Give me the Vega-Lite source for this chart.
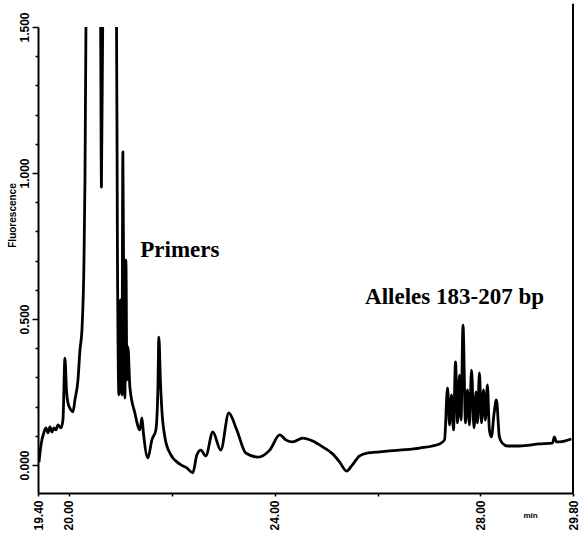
{
  "$schema": "https://vega.github.io/schema/vega-lite/v6.json",
  "width": 535,
  "height": 466,
  "autosize": "none",
  "padding": {"left": 38, "top": 27, "right": 9, "bottom": 46},
  "background": "white",
  "config": {
    "view": {"stroke": null},
    "axis": {
      "grid": false,
      "domainColor": "black",
      "domainWidth": 2,
      "tickColor": "black",
      "tickWidth": 1.5,
      "labelColor": "black",
      "titleColor": "black",
      "labelFont": "Liberation Sans",
      "labelFontWeight": "bold",
      "titleFont": "Liberation Sans",
      "titleFontWeight": "bold"
    }
  },
  "resolve": {"axis": {"y": "independent"}},
  "datasets": {
    "trace": [
      {"t": 19.419, "v": 0.010}, {"t": 19.458, "v": 0.068}, {"t": 19.517, "v": 0.113},
      {"t": 19.555, "v": 0.127}, {"t": 19.594, "v": 0.110}, {"t": 19.633, "v": 0.130},
      {"t": 19.672, "v": 0.113}, {"t": 19.711, "v": 0.127}, {"t": 19.750, "v": 0.120},
      {"t": 19.788, "v": 0.137}, {"t": 19.847, "v": 0.127}, {"t": 19.885, "v": 0.154},
      {"t": 19.924, "v": 0.366}, {"t": 19.953, "v": 0.257}, {"t": 19.983, "v": 0.212},
      {"t": 20.041, "v": 0.188}, {"t": 20.080, "v": 0.182}, {"t": 20.118, "v": 0.223},
      {"t": 20.177, "v": 0.291}, {"t": 20.216, "v": 0.394}, {"t": 20.254, "v": 0.462},
      {"t": 20.293, "v": 0.692}, {"t": 20.313, "v": 0.976}, {"t": 20.332, "v": 1.5},
      {"t": 20.351, "v": 1.75}, {"t": 20.507, "v": 1.9}, {"t": 20.614, "v": 1.6},
      {"t": 20.633, "v": 0.952}, {"t": 20.662, "v": 1.6}, {"t": 20.798, "v": 1.9},
      {"t": 20.924, "v": 1.6}, {"t": 20.944, "v": 0.736}, {"t": 20.973, "v": 0.240},
      {"t": 21.002, "v": 0.565}, {"t": 21.031, "v": 0.240}, {"t": 21.050, "v": 1.072},
      {"t": 21.070, "v": 0.462}, {"t": 21.089, "v": 0.229}, {"t": 21.109, "v": 0.702},
      {"t": 21.128, "v": 0.291}, {"t": 21.148, "v": 0.404}, {"t": 21.186, "v": 0.267},
      {"t": 21.283, "v": 0.178}, {"t": 21.381, "v": 0.120}, {"t": 21.420, "v": 0.161},
      {"t": 21.449, "v": 0.110}, {"t": 21.536, "v": 0.024}, {"t": 21.614, "v": 0.086},
      {"t": 21.691, "v": 0.120}, {"t": 21.730, "v": 0.257}, {"t": 21.750, "v": 0.438},
      {"t": 21.779, "v": 0.291}, {"t": 21.808, "v": 0.188}, {"t": 21.866, "v": 0.096},
      {"t": 21.963, "v": 0.041}, {"t": 22.157, "v": 0.003}, {"t": 22.293, "v": -0.010},
      {"t": 22.410, "v": -0.027}, {"t": 22.487, "v": 0.034}, {"t": 22.565, "v": 0.051},
      {"t": 22.662, "v": 0.031}, {"t": 22.798, "v": 0.113}, {"t": 22.953, "v": 0.051},
      {"t": 23.109, "v": 0.178}, {"t": 23.264, "v": 0.120}, {"t": 23.439, "v": 0.041},
      {"t": 23.672, "v": 0.027}, {"t": 23.905, "v": 0.051}, {"t": 24.099, "v": 0.103},
      {"t": 24.216, "v": 0.086}, {"t": 24.351, "v": 0.079}, {"t": 24.546, "v": 0.092},
      {"t": 24.740, "v": 0.082}, {"t": 24.934, "v": 0.062}, {"t": 25.128, "v": 0.038},
      {"t": 25.264, "v": 0.010}, {"t": 25.400, "v": -0.021}, {"t": 25.497, "v": -0.003},
      {"t": 25.652, "v": 0.031}, {"t": 25.808, "v": 0.041}, {"t": 26.041, "v": 0.045},
      {"t": 26.429, "v": 0.051}, {"t": 26.817, "v": 0.058}, {"t": 27.206, "v": 0.072},
      {"t": 27.303, "v": 0.086}, {"t": 27.361, "v": 0.264}, {"t": 27.400, "v": 0.137},
      {"t": 27.438, "v": 0.240}, {"t": 27.477, "v": 0.120}, {"t": 27.516, "v": 0.353},
      {"t": 27.555, "v": 0.144}, {"t": 27.594, "v": 0.308}, {"t": 27.623, "v": 0.154},
      {"t": 27.662, "v": 0.479}, {"t": 27.710, "v": 0.144}, {"t": 27.749, "v": 0.257},
      {"t": 27.788, "v": 0.137}, {"t": 27.827, "v": 0.325}, {"t": 27.876, "v": 0.127},
      {"t": 27.915, "v": 0.250}, {"t": 27.943, "v": 0.144}, {"t": 27.981, "v": 0.315},
      {"t": 28.021, "v": 0.144}, {"t": 28.060, "v": 0.257}, {"t": 28.097, "v": 0.154},
      {"t": 28.136, "v": 0.274}, {"t": 28.175, "v": 0.120}, {"t": 28.214, "v": 0.096},
      {"t": 28.262, "v": 0.171}, {"t": 28.311, "v": 0.223}, {"t": 28.369, "v": 0.096},
      {"t": 28.427, "v": 0.075}, {"t": 28.526, "v": 0.065}, {"t": 28.759, "v": 0.065},
      {"t": 29.148, "v": 0.072}, {"t": 29.400, "v": 0.075}, {"t": 29.439, "v": 0.096},
      {"t": 29.478, "v": 0.079}, {"t": 29.633, "v": 0.082}, {"t": 29.769, "v": 0.089}
    ],
    "notes": [
      {"t": 22.157, "v": 0.736, "label": "Primers"},
      {"t": 27.497, "v": 0.575, "label": "Alleles 183-207 bp"}
    ],
    "edge": [{"t": 29.8, "lo": -0.096, "hi": 1.58}]
  },
  "layer": [
    {
      "data": {"name": "trace"},
      "mark": {"type": "line", "color": "black", "strokeWidth": 2.8, "clip": true, "strokeJoin": "round", "interpolate": "monotone"},
      "encoding": {
        "x": {
          "field": "t",
          "type": "quantitative",
          "scale": {"domain": [19.4, 29.8], "nice": false, "zero": false},
          "axis": {
            "values": [19.4, 20, 22, 24, 26, 28, 29.8],
            "labelExpr": "datum.value == 22 || datum.value == 26 ? '' : format(datum.value, '.2f')",
            "labelOverlap": false,
            "labelFlush": false,
            "labelBound": false,
            "labelAngle": -90,
            "labelFontSize": 12,
            "labelPadding": 4,
            "tickSize": 3,
            "title": "min",
            "titleFontSize": 8,
            "titleAngle": 0,
            "titleX": 492,
            "titleY": 22,
            "titleAlign": "center",
            "titleBaseline": "middle"
          }
        },
        "y": {
          "field": "v",
          "type": "quantitative",
          "scale": {"domain": [-0.096, 1.5], "nice": false, "zero": false},
          "axis": {
            "orient": "left",
            "values": [0, 0.5, 1, 1.5],
            "format": ".3f",
            "labelOverlap": false,
            "labelFlush": false,
            "labelBound": false,
            "tickSize": 6,
            "labelAngle": -90,
            "labelFontSize": 12,
            "labelPadding": 1,
            "title": "Fluorescence",
            "titleFontSize": 10,
            "titleAngle": -90,
            "titleX": -26,
            "titleY": 188,
            "titleAlign": "center",
            "titleBaseline": "middle"
          }
        }
      }
    },
    {
      "data": {"name": "edge"},
      "mark": {"type": "rule", "color": "black", "strokeWidth": 2},
      "encoding": {
        "x": {"field": "t", "type": "quantitative"},
        "y": {
          "field": "lo",
          "type": "quantitative",
          "axis": {
            "orient": "left",
            "values": [0.1, 0.2, 0.3, 0.4, 0.6, 0.7, 0.8, 0.9, 1.1, 1.2, 1.3, 1.4],
            "labels": false,
            "domain": false,
            "tickSize": 3,
            "title": null
          }
        },
        "y2": {"field": "hi"}
      }
    },
    {
      "data": {"name": "notes"},
      "mark": {"type": "text", "font": "Liberation Serif", "fontWeight": "bold", "fontSize": 23, "color": "black", "align": "center", "baseline": "middle"},
      "encoding": {
        "x": {"field": "t", "type": "quantitative"},
        "y": {"field": "v", "type": "quantitative", "axis": null},
        "text": {"field": "label"}
      }
    }
  ]
}
